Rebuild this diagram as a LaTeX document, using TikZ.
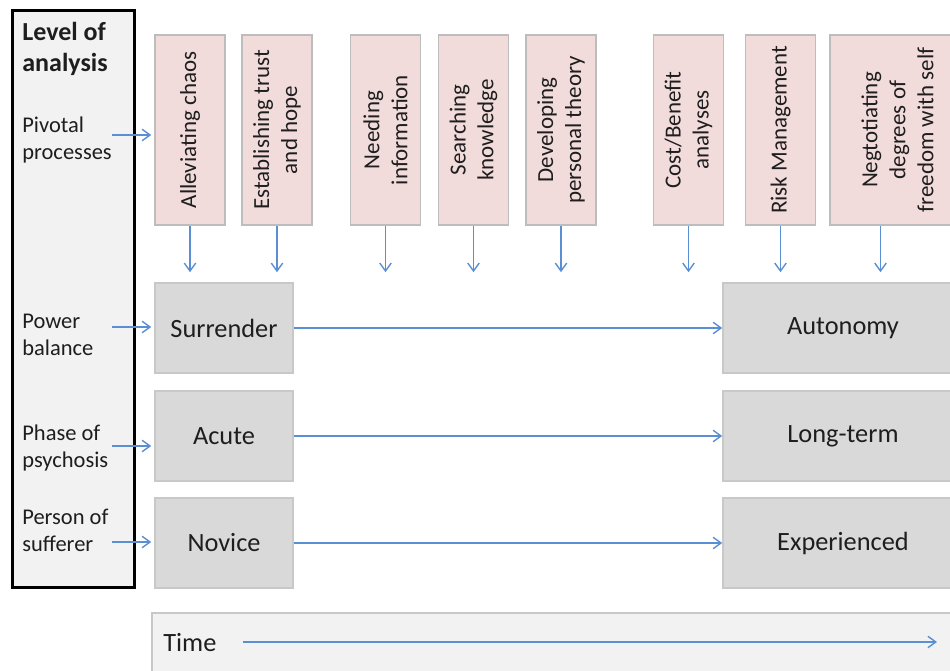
\documentclass[tikz,border=0pt]{standalone}
\usepackage{fontspec}
\setmainfont{Carlito}
\usetikzlibrary{arrows.meta,positioning}

\definecolor{pinkfill}{HTML}{F2DCDB}
\definecolor{greyfill}{HTML}{D9D9D9}
\definecolor{lightfill}{HTML}{F2F2F2}
\definecolor{boxline}{HTML}{BDBDBD}
\definecolor{stateline}{HTML}{C8C8C8}
\definecolor{arrowblue}{HTML}{5B8FD3}
\definecolor{inkgrey}{HTML}{1E1E1E}

\newcommand\lvlfont{\fontsize{12.8}{15.9}\selectfont}
\newcommand\procfont{\fontsize{13.1}{15.9}\selectfont}
\newcommand\statefont{\fontsize{15}{18}\selectfont}
\newcommand\titlefont{\fontsize{14.8}{18.2}\selectfont\bfseries}

\tikzset{
  flow/.style={draw=arrowblue, line width=0.8pt, -{Straight Barb[length=4.5pt,width=6.5pt]}},
  process/.style={draw=boxline, fill=pinkfill, line width=0.9pt, rotate=90,
    minimum width=3.8cm, minimum height=1.4cm, align=center, inner sep=2pt,
    text=inkgrey, font=\procfont},
  state/.style={draw=stateline, fill=greyfill, line width=0.9pt,
    minimum width=2.76cm, minimum height=1.8cm, text=inkgrey, font=\statefont},
  level/.style={anchor=base west, align=left, inner sep=0pt, text=inkgrey, font=\lvlfont},
}

\begin{document}
\begin{tikzpicture}[x=0.02cm, y=-0.02cm]
    \useasboundingbox (0,0) rectangle (950,671);
    \clip (0,0) rectangle (950,671);

    % Level of analysis panel
    \node[draw=black, line width=1.7pt, fill=lightfill,
      minimum width=2.46cm, minimum height=11.56cm] (panel) at (73.5,299) {};
    \node[level, font=\titlefont] (title) at (22,72) {Level of\\analysis};
    \node[level] (pivlbl) at (22,160) {Pivotal\\processes};
    \node[level] (powlbl) at (22,356) {Power\\balance};
    \node[level] (phaselbl) at (22,468) {Phase of\\psychosis};
    \node[level] (perslbl) at (22,552) {Person of\\sufferer};

    % Pivotal processes
    \node[process] (p1) at (190,130) {Alleviating chaos};
    \node[process] (p2) at (277,130) {Establishing trust\\and hope};
    \node[process] (p3) at (385.5,130) {Needing\\information};
    \node[process] (p4) at (473.5,130) {Searching\\knowledge};
    \node[process] (p5) at (561,130) {Developing\\personal theory};
    \node[process] (p6) at (688.5,130) {Cost/Benefit\\analyses};
    \node[process] (p7) at (780.5,130) {Risk Management};
    \node[process, minimum height=2.7cm] (p8) at (897.5,130) {Negtotiating\\degrees of\\freedom with self};

    % States
    \node[state] (surrender) at (224,328) {Surrender};
    \node[state] (acute) at (224,436) {Acute};
    \node[state] (novice) at (224,543) {Novice};
    \node[state, minimum width=4.8cm] (autonomy) at (843,328) {Autonomy};
    \node[state, minimum width=4.8cm] (longterm) at (843,436) {Long-term};
    \node[state, minimum width=4.8cm] (experienced) at (843,543) {Experienced};

    % Time bar
    \node[draw=stateline, fill=lightfill, line width=0.9pt,
      minimum width=16.16cm, minimum height=1.2cm] (timebar) at (556,643) {};
    \node[anchor=west, inner sep=0pt, text=inkgrey, font=\statefont] (timelbl) at (163,643) {Time};
    \coordinate (tstart) at (243,642);
    \coordinate (tend) at (937,642);
    \draw[flow] (tstart) -- (tend);

    % Arrows out of the panel
    \coordinate (pivarr) at (112,135);
    \coordinate (powarr) at (112,327);
    \coordinate (phasearr) at (112,446);
    \coordinate (persarr) at (112,542);
    \draw[flow, shorten >=1.7pt] (pivarr) -- (pivarr -| p1.north);
    \draw[flow, shorten >=1.7pt] (powarr) -- (powarr -| surrender.west);
    \draw[flow, shorten >=1.7pt] (phasearr) -- (phasearr -| acute.west);
    \draw[flow, shorten >=1.7pt] (persarr) -- (persarr -| novice.west);

    % Processes feed the power balance
    \foreach \p in {p1,p2,p3,p4,p5}
        \draw[flow, shorten >=5.7pt] (\p.west) -- (\p.west |- surrender.north);
    \foreach \p in {p6,p7}
        \draw[flow, shorten >=5.7pt] (\p.west) -- (\p.west |- autonomy.north);
    \draw[flow, shorten >=5.7pt] ([xshift=-0.34cm]p8.west) -- ([xshift=-0.34cm]p8.west |- autonomy.north);

    % Transitions over time
    \draw[flow] (surrender.east) -- (autonomy.west);
    \draw[flow] (acute.east) -- (longterm.west);
    \draw[flow] (novice.east) -- (experienced.west);
\end{tikzpicture}
\end{document}
